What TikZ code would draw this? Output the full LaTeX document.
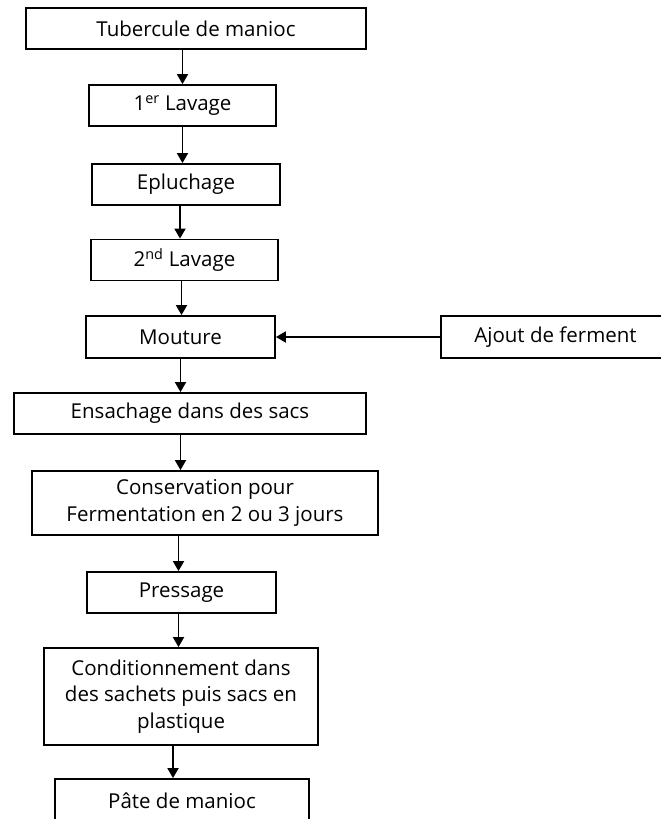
\documentclass[tikz,border=0pt]{standalone}
\usepackage{fontspec}
\setmainfont{Open Sans}[Ligatures=NoCommon]
\usepackage{tikz}
\usetikzlibrary{arrows.meta}
\usetikzlibrary{positioning}

\begin{document}
\begin{tikzpicture}[x=1pt, y=-1pt,
	stepbox/.style={draw, line width=1.8pt, inner sep=0pt, align=center, font=\fontsize{20.5}{26.7}\selectfont},
	arr/.style={line width=1.8pt, -{Triangle[width=11pt, length=10pt]}}]
	\useasboundingbox (0,0) rectangle (661,819);
	\clip (0,0) rectangle (661,819);
	\node[stepbox, minimum width=340pt, minimum height=41pt] (tub) at (196, 28.5) {Tubercule de manioc};
	\node[stepbox, minimum width=187pt, minimum height=41pt] (lav1) at (182.5, 105.5) {1\textsuperscript{er} Lavage};
	\node[stepbox, minimum width=188pt, minimum height=41pt] (eplu) at (186, 184.5) {Epluchage};
	\node[stepbox, minimum width=187pt, minimum height=41pt] (lav2) at (184.5, 260) {2\textsuperscript{nd} Lavage};
	\node[stepbox, minimum width=189pt, minimum height=42pt] (mout) at (180.5, 337) {Mouture};
	\node[stepbox, minimum width=229pt, minimum height=42pt] (ajout) at (555.5, 337) {Ajout de ferment};
	\node[stepbox, minimum width=352pt, minimum height=41pt] (ens) at (190, 413.5) {Ensachage dans des sacs};
	\node[stepbox, minimum width=346pt, minimum height=64pt] (cons) at (205, 503) {Conservation pour\\Fermentation en 2 ou 3 jours};
	\node[stepbox, minimum width=189pt, minimum height=41pt] (press) at (181.5, 592.5) {Pressage};
	\node[stepbox, minimum width=274pt, minimum height=97pt] (cond) at (181, 696.5) {Conditionnement dans\\des sachets puis sacs en\\plastique};
	\node[stepbox, minimum width=254pt, minimum height=44pt] (pate) at (182, 801) {Pâte de manioc};
	\draw[arr] (tub.south -| lav1.north) -- (lav1.north);
	\draw[arr] (lav1.south) -- (lav1.south |- eplu.north);
	\draw[arr] ([xshift=-6pt]eplu.south) -- ([xshift=-6pt]eplu.south |- lav2.north);
	\draw[arr] ([xshift=-3pt]lav2.south) -- ([xshift=-3pt]lav2.south |- mout.north);
	\draw[arr] (ajout.west) -- (mout.east);
	\draw[arr] (mout.south) -- (mout.south |- ens.north);
	\draw[arr] (mout.south |- ens.south) -- (mout.south |- cons.north);
	\draw[arr] ([xshift=-3pt]press.north |- cons.south) -- ([xshift=-3pt]press.north);
	\draw[arr] ([xshift=-3pt]press.south) -- ([xshift=-3pt]press.south |- cond.north);
	\draw[arr] ([xshift=-8pt]cond.south) -- ([xshift=-8pt]cond.south |- pate.north);
\end{tikzpicture}
\end{document}
